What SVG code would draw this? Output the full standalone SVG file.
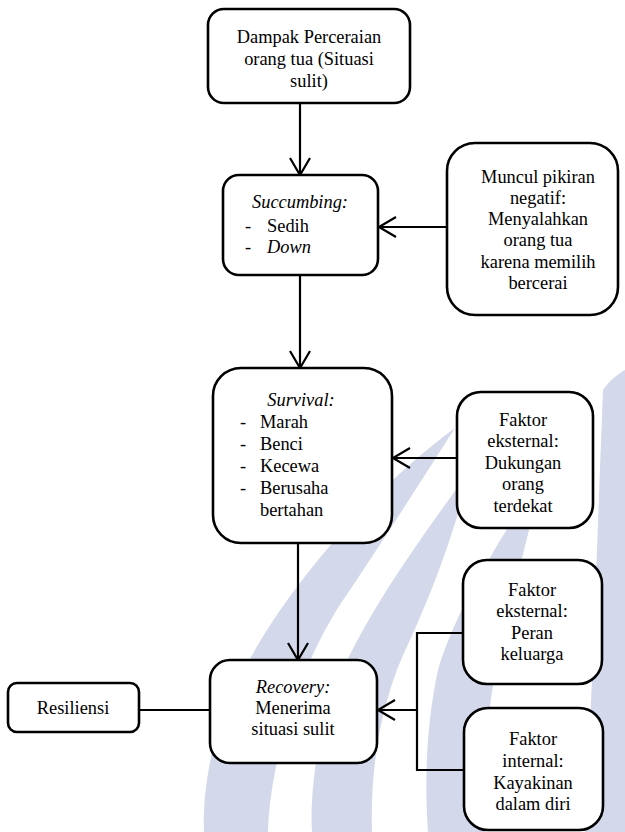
<svg xmlns="http://www.w3.org/2000/svg" width="625" height="832" viewBox="0 0 625 832">
<style>
.box{fill:#fff;stroke:#000;stroke-width:2.6}
.t{font-family:'Liberation Serif','Times New Roman',Tinos,'DejaVu Serif',serif;font-size:18.4px;fill:#000}
.c{text-anchor:middle}
.i{font-style:italic}
.ln{fill:none;stroke:#000;stroke-width:2.2}
</style>
<defs>
<marker id="arr" markerUnits="userSpaceOnUse" markerWidth="24" markerHeight="24" viewBox="-20 -12 22 24" refX="0" refY="0" orient="auto">
<path d="M-17,-10 L0,0 L-17,10" fill="none" stroke="#000" stroke-width="2.2"/>
</marker>
</defs>
<rect width="625" height="832" fill="#fff"/>
<g id="watermark" fill="#d3d8ea">
<path d="M455 428 C370 490 250 620 215 740 C205 780 203 810 204 832 L268 832 C270 760 300 660 350 590 C390 530 425 475 455 428 Z"/>
<path d="M470 470 C420 540 360 620 330 700 C315 750 310 800 312 832 L372 832 C370 770 380 700 410 640 C435 585 455 530 470 470 Z"/>
<path d="M545 470 C505 530 455 610 438 670 C425 730 425 790 428 832 L485 832 C482 780 485 720 498 660 C512 600 528 530 545 470 Z"/>
<path d="M603 390 C610 380 618 374 625 370 L625 832 L585 832 C592 700 598 520 603 390 Z"/>
</g>
<g id="connectors">
<line class="ln" x1="300" y1="103" x2="300" y2="175" marker-end="url(#arr)"/>
<line class="ln" x1="447" y1="227" x2="379" y2="227" marker-end="url(#arr)"/>
<line class="ln" x1="300" y1="275" x2="300" y2="368" marker-end="url(#arr)"/>
<line class="ln" x1="457" y1="458" x2="393" y2="458" marker-end="url(#arr)"/>
<line class="ln" x1="298" y1="543" x2="298" y2="660" marker-end="url(#arr)"/>
<line class="ln" x1="139" y1="710" x2="210" y2="710"/>
<path class="ln" d="M463 633 H417 V770 H464"/>
<line class="ln" x1="417" y1="710" x2="378" y2="710" marker-end="url(#arr)"/>
</g>
<g font-family="'Liberation Serif', 'Times New Roman', serif">
<g id="n1">
<rect class="box" x="208" y="9" width="202" height="94" rx="16"/>
<text class="t c" x="309" y="43">Dampak Perceraian</text>
<text class="t c" x="309" y="65">orang tua (Situasi</text>
<text class="t c" x="309" y="87">sulit)</text>
</g>
<g id="n2">
<rect class="box" x="223" y="175" width="155" height="100" rx="16"/>
<text class="t c i" x="300" y="208">Succumbing:</text>
<text class="t" x="245" y="232">-</text>
<text class="t" x="267" y="232">Sedih</text>
<text class="t" x="245" y="253">-</text>
<text class="t i" x="267" y="253">Down</text>
</g>
<g id="n3">
<rect class="box" x="447" y="143" width="171" height="172" rx="28"/>
<text class="t c" x="538" y="183">Muncul pikiran</text>
<text class="t c" x="538" y="204">negatif:</text>
<text class="t c" x="538" y="225">Menyalahkan</text>
<text class="t c" x="538" y="246">orang tua</text>
<text class="t c" x="538" y="268">karena memilih</text>
<text class="t c" x="538" y="289">bercerai</text>
</g>
<g id="n4">
<rect class="box" x="213" y="368" width="179" height="175" rx="28"/>
<text class="t c i" x="301" y="406">Survival:</text>
<text class="t" x="240" y="428">-</text>
<text class="t" x="260" y="428">Marah</text>
<text class="t" x="240" y="450">-</text>
<text class="t" x="260" y="450">Benci</text>
<text class="t" x="240" y="472">-</text>
<text class="t" x="260" y="472">Kecewa</text>
<text class="t" x="240" y="494">-</text>
<text class="t" x="260" y="494">Berusaha</text>
<text class="t" x="260" y="516">bertahan</text>
</g>
<g id="n5">
<rect class="box" x="457" y="392" width="136" height="136" rx="24"/>
<text class="t c" x="523" y="426">Faktor</text>
<text class="t c" x="523" y="447">eksternal:</text>
<text class="t c" x="523" y="469">Dukungan</text>
<text class="t c" x="523" y="490">orang</text>
<text class="t c" x="523" y="512">terdekat</text>
</g>
<g id="n6">
<rect class="box" x="8" y="683" width="131" height="49" rx="9"/>
<text class="t c" x="73" y="714">Resiliensi</text>
</g>
<g id="n7">
<rect class="box" x="210" y="660" width="167" height="103" rx="20"/>
<text class="t c i" x="293" y="693">Recovery:</text>
<text class="t c" x="293" y="714">Menerima</text>
<text class="t c" x="293" y="735">situasi sulit</text>
</g>
<g id="n8">
<rect class="box" x="463" y="560" width="139" height="124" rx="24"/>
<text class="t c" x="532" y="596">Faktor</text>
<text class="t c" x="532" y="617">eksternal:</text>
<text class="t c" x="532" y="639">Peran</text>
<text class="t c" x="532" y="660">keluarga</text>
</g>
<g id="n9">
<rect class="box" x="464" y="708" width="139" height="122" rx="24"/>
<text class="t c" x="533" y="745">Faktor</text>
<text class="t c" x="533" y="767">internal:</text>
<text class="t c" x="533" y="789">Kayakinan</text>
<text class="t c" x="533" y="810">dalam diri</text>
</g>
</g>
</svg>
